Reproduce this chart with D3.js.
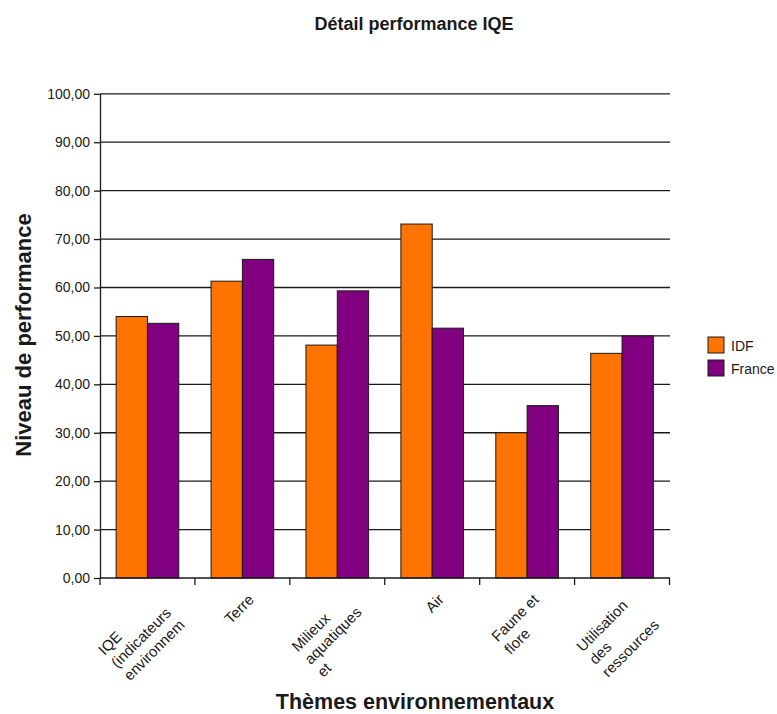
<!DOCTYPE html>
<html>
<head>
<meta charset="utf-8">
<script src="https://cdn.jsdelivr.net/npm/d3@7"></script>
<style>
  body { margin: 0; background: #fff; }
  text { font-family: "Liberation Sans", Arial, Helvetica, sans-serif; fill: #1a1a1a; }
</style>
</head>
<body>
<svg id="chart" width="777" height="714"></svg>
<script>
// Themes (each label split into its displayed lines)
const categories = [
  ["IQE", "(indicateurs", "environnem"],
  ["Terre"],
  ["Milieux", "aquatiques", "et"],
  ["Air"],
  ["Faune et", "flore"],
  ["Utilisation", "des", "ressources"]
];
const seriesNames = ["IDF", "France"];
const idfValues = [54.0, 61.3, 48.1, 73.1, 30.0, 46.4];
const franceValues = [52.6, 65.8, 59.3, 51.6, 35.6, 50.0];
const yTicks = [0, 10, 20, 30, 40, 50, 60, 70, 80, 90, 100];
const colors = ["#ff7300", "#800080"];

const svg = d3.select("#chart");
const plot = { left: 100, right: 669.5, top: 93.8, bottom: 578 };

const x = d3.scaleBand()
  .domain(d3.range(categories.length))
  .range([plot.left, plot.right])
  .paddingInner(0).paddingOuter(0);

const bw = x.bandwidth();
const xs = d3.scaleBand()
  .domain(seriesNames)
  .range([bw * 0.17, bw * 0.83]);

const y = d3.scaleLinear().domain([0, 100]).range([plot.bottom, plot.top]);

const locale = d3.formatLocale({ decimal: ",", thousands: " ", grouping: [3], currency: ["", " €"] });
const fmt = locale.format(".2f");

// Horizontal grid lines
svg.append("g").selectAll("line")
  .data(yTicks.filter(d => d > 0))
  .join("line")
  .attr("x1", plot.left).attr("x2", plot.right + 0.5)
  .attr("y1", d => y(d)).attr("y2", d => y(d))
  .attr("stroke", "#1a1a1a").attr("stroke-width", 1.3);

// Bars
const rows = categories.map((c, i) => ({ i, values: [idfValues[i], franceValues[i]] }));
const groups = svg.append("g").selectAll("g")
  .data(rows).join("g")
  .attr("transform", d => `translate(${x(d.i)},0)`);
groups.selectAll("rect")
  .data(d => d.values.map((v, k) => ({ name: seriesNames[k], v, k })))
  .join("rect")
  .attr("x", d => xs(d.name))
  .attr("width", xs.bandwidth())
  .attr("y", d => y(d.v))
  .attr("height", d => y(0) - y(d.v))
  .attr("fill", d => colors[d.k])
  .attr("stroke", "#1a1a1a").attr("stroke-width", 1);

// Y axis
const yAxis = svg.append("g")
  .attr("transform", `translate(${plot.left},0)`)
  .call(d3.axisLeft(y).tickValues(yTicks).tickFormat(fmt).tickSize(6).tickSizeOuter(0).tickPadding(4));
yAxis.select(".domain").attr("stroke", "#1a1a1a").attr("stroke-width", 1.3);
yAxis.selectAll(".tick line").attr("stroke", "#1a1a1a").attr("stroke-width", 1.3);
yAxis.selectAll(".tick text")
  .attr("font-size", 14).attr("fill", "#1a1a1a")
  .style("font-family", '"Liberation Sans", Arial, sans-serif');

// X axis line and boundary ticks
const bounds = d3.range(categories.length).map(i => x(i)).concat([plot.right]);
const xAxis = svg.append("g");
xAxis.append("line")
  .attr("x1", plot.left).attr("x2", plot.right + 0.5)
  .attr("y1", y(0)).attr("y2", y(0))
  .attr("stroke", "#1a1a1a").attr("stroke-width", 1.3);
xAxis.selectAll("line.tk")
  .data(bounds).join("line").attr("class", "tk")
  .attr("x1", d => d).attr("x2", d => d)
  .attr("y1", y(0)).attr("y2", y(0) + 7)
  .attr("stroke", "#1a1a1a").attr("stroke-width", 1.3);

// Rotated multi-line category labels
const labels = svg.append("g").selectAll("g")
  .data(categories).join("g")
  .attr("transform", (d, i) => `translate(${x(i) + bw / 2 - 3},${y(0) + 7}) rotate(-45)`);
labels.each(function (lines) {
  const g = d3.select(this);
  const t = g.append("text").attr("font-size", 15).attr("fill", "#333");
  lines.forEach((ln, j) => {
    t.append("tspan").attr("x", 0).attr("y", 22 + j * 18).text(ln);
  });
  let maxW = 0;
  t.selectAll("tspan").each(function () { maxW = Math.max(maxW, this.getComputedTextLength()); });
  t.selectAll("tspan").attr("x", -maxW);
});

// Titles
svg.append("text")
  .attr("x", 414).attr("y", 30)
  .attr("text-anchor", "middle")
  .attr("font-size", 18).attr("font-weight", "bold")
  .text("Détail performance IQE");

svg.append("text")
  .attr("x", 415).attr("y", 709)
  .attr("text-anchor", "middle")
  .attr("font-size", 21.5).attr("font-weight", "bold")
  .text("Thèmes environnementaux");

svg.append("text")
  .attr("transform", "translate(31,335) rotate(-90)")
  .attr("text-anchor", "middle")
  .attr("font-size", 22).attr("font-weight", "bold")
  .text("Niveau de performance");

// Legend
const legend = svg.append("g").selectAll("g")
  .data(seriesNames).join("g")
  .attr("transform", (d, i) => `translate(708,${337 + i * 23})`);
legend.append("rect")
  .attr("width", 16).attr("height", 16)
  .attr("fill", (d, i) => colors[i])
  .attr("stroke", "#1a1a1a").attr("stroke-width", 1);
legend.append("text")
  .attr("x", 23).attr("y", 13.5)
  .attr("font-size", 14)
  .text(d => d);
</script>
</body>
</html>
